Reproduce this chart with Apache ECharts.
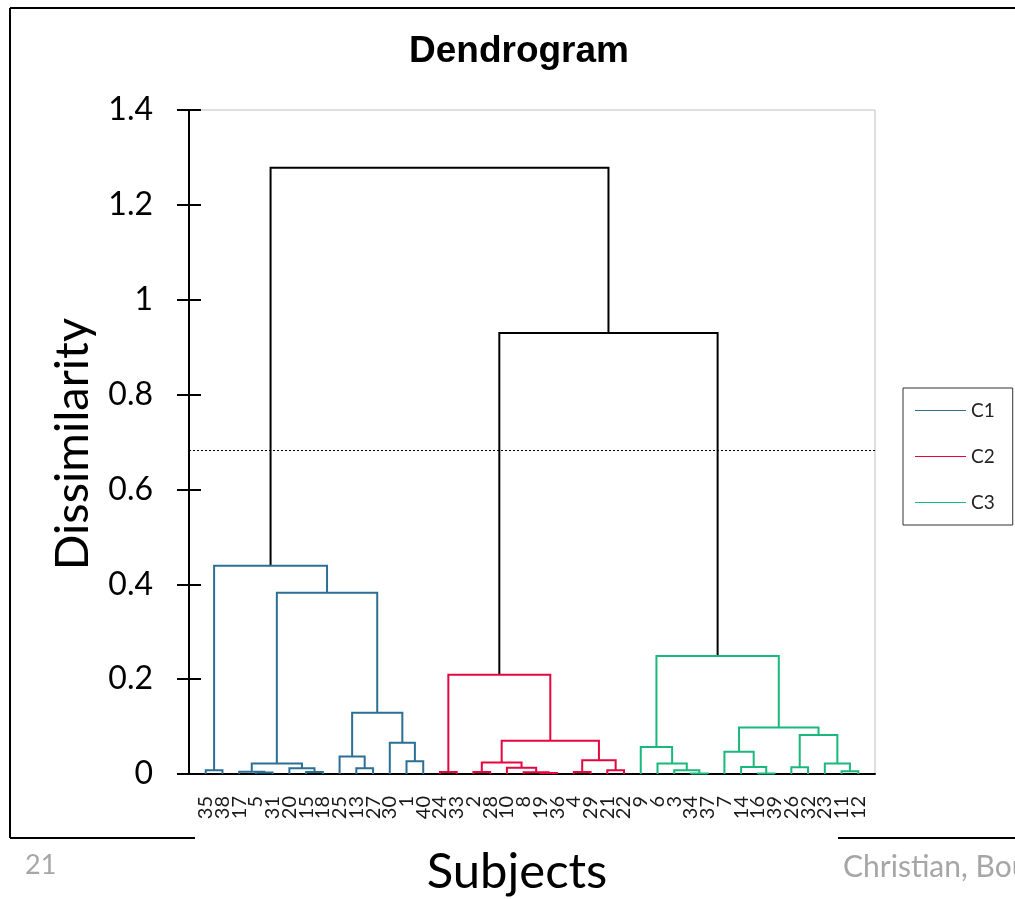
<!DOCTYPE html>
<html>
<head>
<meta charset="utf-8">
<title>Dendrogram</title>
<script src="https://cdn.jsdelivr.net/npm/echarts@6/dist/echarts.min.js"></script>
<style>
  html, body { margin: 0; padding: 0; background: #fff; overflow: hidden; }
  #chart { width: 1015px; height: 899px; }
</style>
</head>
<body>
<div id="chart"></div>
<script>
// Leaf order along the x axis (subject numbers)
const leafLabels = ['35','38','17','5','31','20','15','18','25','13','27','30','1','40',
                    '24','33','2','28','10','8','19','36','4','29','21','22',
                    '9','6','3','34','37','7','14','16','39','26','32','23','11','12'];

// Agglomeration steps: [node id, left child, right child, dissimilarity, class]
const merges = [
  ['n1', '35', '38', 0.008, 'C1'],
  ['n2', '5', '31', 0.003, 'C1'],
  ['n3', '17', 'n2', 0.005, 'C1'],
  ['n4', '15', '18', 0.004, 'C1'],
  ['n5', '20', 'n4', 0.012, 'C1'],
  ['n6', 'n3', 'n5', 0.022, 'C1'],
  ['n7', '13', '27', 0.012, 'C1'],
  ['n8', '25', 'n7', 0.037, 'C1'],
  ['n9', '1', '40', 0.027, 'C1'],
  ['n10', '30', 'n9', 0.066, 'C1'],
  ['n11', 'n8', 'n10', 0.129, 'C1'],
  ['n12', 'n6', 'n11', 0.382, 'C1'],
  ['n13', 'n1', 'n12', 0.439, 'C1'],
  ['n14', '24', '33', 0.004, 'C2'],
  ['n15', '2', '28', 0.004, 'C2'],
  ['n16', '19', '36', 0.002, 'C2'],
  ['n17', '8', 'n16', 0.0035, 'C2'],
  ['n18', '10', 'n17', 0.013, 'C2'],
  ['n19', 'n15', 'n18', 0.024, 'C2'],
  ['n20', '4', '29', 0.004, 'C2'],
  ['n21', '21', '22', 0.008, 'C2'],
  ['n22', 'n20', 'n21', 0.029, 'C2'],
  ['n23', 'n19', 'n22', 0.070, 'C2'],
  ['n24', 'n14', 'n23', 0.209, 'C2'],
  ['n25', '34', '37', 0.001, 'C3'],
  ['n26', '3', 'n25', 0.008, 'C3'],
  ['n27', '6', 'n26', 0.022, 'C3'],
  ['n28', '9', 'n27', 0.057, 'C3'],
  ['n29', '16', '39', 0.001, 'C3'],
  ['n30', '14', 'n29', 0.015, 'C3'],
  ['n31', '7', 'n30', 0.047, 'C3'],
  ['n32', '26', '32', 0.014, 'C3'],
  ['n33', '11', '12', 0.006, 'C3'],
  ['n34', '23', 'n33', 0.022, 'C3'],
  ['n35', 'n32', 'n34', 0.082, 'C3'],
  ['n36', 'n31', 'n35', 0.098, 'C3'],
  ['n37', 'n28', 'n36', 0.249, 'C3'],
  ['n38', 'n24', 'n37', 0.930, 'top'],
  ['n39', 'n13', 'n38', 1.278, 'top']
];

// Truncation level separating the three classes
const cutLevel = 0.683;

const classNames = ['C1', 'C2', 'C3'];
const classColors = { C1: '#2b6f94', C2: '#e5063f', C3: '#1ab87a', top: '#000000' };

// Build the U-shaped links: leaves sit at 1..n, each node at the mean of its children
const nodes = {};
leafLabels.forEach((lab, i) => { nodes[lab] = { x: i + 1, h: 0 }; });
const links = { C1: [], C2: [], C3: [], top: [] };
merges.forEach(([id, a, b, h, cls]) => {
  const A = nodes[a], B = nodes[b];
  nodes[id] = { x: (A.x + B.x) / 2, h: h };
  links[cls].push({ coords: [[A.x, A.h], [A.x, h], [B.x, h], [B.x, B.h]] });
});

const linkSeries = (name, data) => ({
  type: 'lines',
  name: name,
  coordinateSystem: 'cartesian2d',
  polyline: true,
  data: data,
  silent: true,
  lineStyle: { color: classColors[name], width: 2, opacity: 1 },
  itemStyle: { color: classColors[name] }
});

const baseFont = 'Lato, "Open Sans", sans-serif';
const legendText = { fontFamily: baseFont, fontSize: 19, color: '#222' };

const chart = echarts.init(document.getElementById('chart'), null, { renderer: 'canvas' });
chart.setOption({
  animation: false,
  backgroundColor: '#ffffff',
  title: {
    text: 'Dendrogram',
    left: 514,
    top: 28,
    textAlign: 'center',
    textStyle: { fontFamily: '"Liberation Sans", Arial, sans-serif', fontWeight: 'bold', fontSize: 37, color: '#000' }
  },
  legend: {
    orient: 'vertical',
    left: 903,
    top: 388,
    padding: [13, 18, 13, 12],
    itemGap: 27,
    itemWidth: 51,
    itemHeight: 1,
    borderColor: '#333',
    borderWidth: 1,
    itemStyle: { borderWidth: 0 },
    lineStyle: { width: 1 },
    textStyle: legendText,
    data: classNames.map(n => ({
      name: n,
      icon: 'rect',
      itemStyle: { color: classColors[n], borderWidth: 0 },
      textStyle: legendText
    }))
  },
  grid: {
    left: 189, right: 140, top: 110, bottom: 125,
    show: true, borderColor: '#bfbfbf', borderWidth: 1
  },
  xAxis: {
    type: 'value',
    min: 0,
    max: leafLabels.length + 1,
    interval: 1,
    splitLine: { show: false },
    axisTick: { show: false },
    axisLine: { lineStyle: { color: '#000', width: 2 } },
    axisLabel: {
      rotate: 90,
      margin: 22,
      fontFamily: baseFont,
      fontSize: 20,
      color: '#1a1a1a',
      formatter: v => leafLabels[v - 1] || ''
    }
  },
  yAxis: [
    {
      type: 'value',
      min: 0, max: 1.4, interval: 0.2,
      splitLine: { show: false },
      axisLine: { show: true, lineStyle: { color: '#000', width: 2 } },
      axisTick: { show: true, length: 12, lineStyle: { color: '#000', width: 2 } },
      axisLabel: { margin: 36, fontFamily: baseFont, fontSize: 32, color: '#000' }
    },
    {
      type: 'value',
      position: 'left',
      min: 0, max: 1.4, interval: 0.2,
      splitLine: { show: false },
      axisLine: { show: false },
      axisLabel: { show: false },
      axisTick: { show: true, inside: true, length: 12, lineStyle: { color: '#000', width: 2 } }
    }
  ],
  series: [
    linkSeries('top', links.top),
    linkSeries('C1', links.C1),
    linkSeries('C2', links.C2),
    linkSeries('C3', links.C3),
    {
      type: 'lines',
      name: 'cut',
      coordinateSystem: 'cartesian2d',
      silent: true,
      data: [{ coords: [[0, cutLevel], [leafLabels.length + 1, cutLevel]] }],
      lineStyle: { color: '#000', width: 1, type: [2, 2], opacity: 1 }
    }
  ],
  graphic: [
    { type: 'line', shape: { x1: 10, y1: 8, x2: 1015, y2: 8 }, style: { stroke: '#000', lineWidth: 2 } },
    { type: 'line', shape: { x1: 10, y1: 8, x2: 10, y2: 838 }, style: { stroke: '#000', lineWidth: 2 } },
    { type: 'line', shape: { x1: 10, y1: 838, x2: 195, y2: 838 }, style: { stroke: '#000', lineWidth: 2 } },
    { type: 'line', shape: { x1: 838, y1: 838, x2: 1015, y2: 838 }, style: { stroke: '#000', lineWidth: 2 } },
    {
      type: 'text', x: 73, y: 444, rotation: Math.PI / 2,
      style: { text: 'Dissimilarity', fontFamily: baseFont, fontSize: 47, fill: '#000', align: 'center', verticalAlign: 'middle' }
    },
    {
      type: 'text', x: 517, y: 872,
      style: { text: 'Subjects', fontFamily: baseFont, fontSize: 49, fill: '#000', align: 'center', verticalAlign: 'middle' }
    },
    {
      type: 'text', x: 25, y: 865,
      style: { text: '21', fontFamily: baseFont, fontSize: 27, fill: '#a6a6a6', align: 'left', verticalAlign: 'middle' }
    },
    {
      type: 'text', x: 843, y: 867,
      style: { text: 'Christian, Bou', fontFamily: baseFont, fontSize: 30, fill: '#a6a6a6', align: 'left', verticalAlign: 'middle' }
    }
  ]
});
</script>
</body>
</html>
